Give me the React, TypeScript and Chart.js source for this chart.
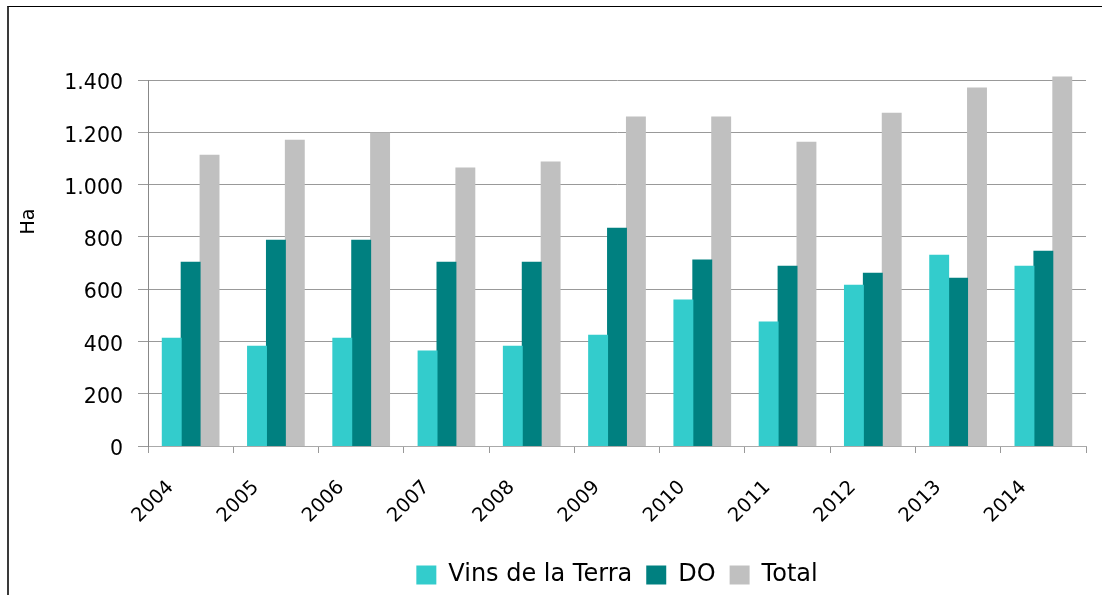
import React, { useEffect, useRef } from "react";
import { Chart, registerables } from "chart.js";

Chart.register(...registerables);

const categories = ["2004", "2005", "2006", "2007", "2008", "2009", "2010", "2011", "2012", "2013", "2014"];
const vinsDeLaTerra = [412, 382, 412, 363, 382, 424, 558, 474, 615, 730, 688];
const denominacioOrigen = [703, 787, 787, 703, 703, 833, 711, 688, 661, 642, 745];
const total = [1112, 1170, 1197, 1063, 1086, 1258, 1258, 1162, 1273, 1369, 1411];
const yTickValues = [0, 200, 400, 600, 800, 1000, 1200, 1400];
const yTickLabels = ["0", "200", "400", "600", "800", "1.000", "1.200", "1.400"];
const seriesNames = ["Vins de la Terra", "DO", "Total"];
const yTitle = "Ha";

const FONT = "'DejaVu Sans', Verdana, sans-serif";

const yTitlePlugin = {
  id: "yTitlePlugin",
  afterDraw(chart: any) {
    const ctx = chart.ctx;
    ctx.save();
    ctx.translate(29.5, 221.5);
    ctx.rotate(-Math.PI / 2);
    ctx.font = `19px ${FONT}`;
    ctx.fillStyle = "#000";
    ctx.textAlign = "center";
    ctx.textBaseline = "middle";
    ctx.fillText(yTitle, 0, 0);
    ctx.restore();
  },
};

export default function App() {
  const ref = useRef<HTMLCanvasElement | null>(null);

  useEffect(() => {
    if (!ref.current) return;
    const chart = new Chart(ref.current, {
      type: "bar",
      data: {
        labels: categories,
        datasets: [
          { label: seriesNames[0], data: vinsDeLaTerra, backgroundColor: "#33CCCC", borderWidth: 0, clip: false as any },
          { label: seriesNames[1], data: denominacioOrigen, backgroundColor: "#008080", borderWidth: 0, clip: false as any },
          { label: seriesNames[2], data: total, backgroundColor: "#C0C0C0", borderWidth: 0, clip: false as any },
        ],
      },
      options: {
        responsive: false,
        animation: false,
        devicePixelRatio: 1,
        layout: { padding: { left: 0, right: 16, top: 80, bottom: -2 } },
        datasets: { bar: { categoryPercentage: 0.665, barPercentage: 1.0, inflateAmount: 0.5 } },
        plugins: {
          tooltip: { enabled: false },
          title: { display: false },
          legend: {
            position: "bottom",
            fullSize: false,
            labels: {
              font: { family: FONT, size: 24 },
              color: "#000",
              boxWidth: 20,
              boxHeight: 19,
              padding: 14,
            },
          },
        },
        scales: {
          x: {
            grid: {
              drawOnChartArea: false,
              drawTicks: true,
              tickLength: 7,
              color: "#999",
              offset: true,
            },
            border: { display: true, color: "#aaa" },
            ticks: {
              autoSkip: false,
              maxRotation: 45,
              minRotation: 45,
              padding: 23,
              labelOffset: -20,
              color: "#000",
              font: { family: FONT, size: 19.5 },
            },
            afterFit: (s: any) => {
              s.height = 103;
            },
          },
          y: {
            min: 0,
            max: 1400,
            afterBuildTicks: (s: any) => {
              s.ticks = yTickValues.map((v) => ({ value: v }));
            },
            grid: { color: "#999", tickLength: 10, drawTicks: true },
            border: { display: true, color: "#888" },
            ticks: {
              padding: 15,
              labelOffset: 4,
              color: "#000",
              font: { family: FONT, size: 20.5 },
              callback: (v: any) => {
                const i = yTickValues.indexOf(Number(v));
                return i >= 0 ? yTickLabels[i] : "";
              },
            },
            afterFit: (s: any) => {
              s.width = 148;
            },
          },
        },
      },
      plugins: [yTitlePlugin],
    });
    return () => chart.destroy();
  }, []);

  return (
    <div style={{ position: "fixed", left: 0, top: 0, width: 1102, height: 595, overflow: "hidden", background: "#fff" }}>
      <canvas ref={ref} width={1102} height={595} style={{ position: "absolute", left: 0, top: 0, display: "block" }} />
      <div
        style={{
          position: "absolute",
          left: 7,
          top: 6,
          width: 1200,
          height: 700,
          borderTop: "1.5px solid #000",
          borderLeft: "2px solid #3a3a3a",
          pointerEvents: "none",
        }}
      />
    </div>
  );
}
